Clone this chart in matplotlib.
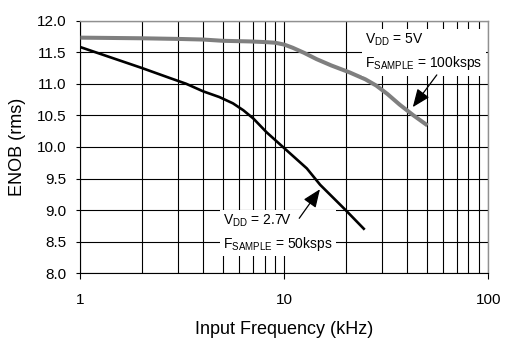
import matplotlib
matplotlib.use("Agg")
import matplotlib.pyplot as plt
from matplotlib.ticker import LogLocator, NullFormatter, FixedLocator

plt.rcParams['font.family'] = ['Liberation Sans', 'DejaVu Sans']
plt.rcParams['mathtext.fontset'] = 'custom'
plt.rcParams['mathtext.rm'] = 'Liberation Sans'
plt.rcParams['mathtext.it'] = 'Liberation Sans'
plt.rcParams['mathtext.default'] = 'regular'

# ENOB vs input frequency
freq_5v = [1, 2, 3, 4, 5, 6.8, 8, 9, 10, 11, 12.5, 14.4, 17, 20.9, 25, 28.3, 32, 36.8, 43, 50.4]
enob_5v = [11.73, 11.72, 11.71, 11.70, 11.68, 11.67, 11.66, 11.65, 11.62, 11.57, 11.49, 11.39,
           11.29, 11.18, 11.07, 10.97, 10.84, 10.67, 10.50, 10.34]

freq_27v = [1, 2, 2.75, 3.3, 4, 4.8, 5.6, 6.3, 7.05, 8.2, 10, 12.9, 15, 20, 24.8]
enob_27v = [11.58, 11.25, 11.09, 11.0, 10.88, 10.79, 10.69, 10.58, 10.45, 10.23, 9.98,
            9.66, 9.40, 9.0, 8.69]

y_ticks = [8.0, 8.5, 9.0, 9.5, 10.0, 10.5, 11.0, 11.5, 12.0]
x_ticks = [1, 10, 100]

fig = plt.figure(figsize=(5.09, 3.49), dpi=100)
ax = fig.add_axes([0.158, 0.217, 0.801, 0.724])

ax.plot(freq_5v, enob_5v, color='#7f7f7f', lw=2.9, solid_capstyle='butt',
        solid_joinstyle='round', zorder=3)
ax.plot(freq_27v, enob_27v, color='black', lw=1.9, solid_capstyle='butt',
        solid_joinstyle='round', zorder=3)

ax.set_xscale('log')
ax.set_xlim(1, 100)
ax.set_ylim(8.0, 12.0)
ax.xaxis.set_major_locator(FixedLocator(x_ticks))
ax.set_xticklabels([str(t) for t in x_ticks])
ax.xaxis.set_minor_locator(LogLocator(base=10, subs=range(2, 10)))
ax.xaxis.set_minor_formatter(NullFormatter())
ax.set_yticks(y_ticks)
ax.set_yticklabels([f"{t:.1f}" for t in y_ticks])

ax.grid(True, which='both', axis='x', color='black', lw=0.8)
ax.grid(True, which='major', axis='y', color='black', lw=0.8)
ax.set_axisbelow(True)

ax.tick_params(axis='x', which='major', direction='out', length=4, width=0.8, pad=10, labelsize=11)
ax.tick_params(axis='x', which='minor', length=0)
ax.tick_params(axis='y', direction='out', length=3, width=0.8, pad=7, labelsize=11)

for s in ['left', 'bottom']:
    ax.spines[s].set_color('black')
    ax.spines[s].set_linewidth(0.8)
for s in ['top', 'right']:
    ax.spines[s].set_color('#909090')
    ax.spines[s].set_linewidth(1.0)

ax.set_xlabel('Input Frequency (kHz)', fontsize=13, labelpad=10)
ax.set_ylabel('ENOB (rms)', fontsize=13, labelpad=8)

box = dict(boxstyle='square,pad=0.25', fc='white', ec='none')
arrow = dict(arrowstyle='-|>,head_length=1.1,head_width=0.45', color='black',
             lw=0.9, shrinkA=0, shrinkB=0)

ax.text(24.9, 11.50, 'V$_{DD}$ = 5V\nF$_{SAMPLE}$ = 100ksps', fontsize=10,
        ha='left', va='center', linespacing=1.45, bbox=box, zorder=4)
ax.annotate('', xy=(42.7, 10.63), xytext=(56.0, 11.14), arrowprops=arrow, zorder=5)

ax.text(5.01, 8.64, 'V$_{DD}$ = 2.7V\nF$_{SAMPLE}$ = 50ksps', fontsize=10,
        ha='left', va='center', linespacing=1.45, bbox=box, zorder=4)
ax.annotate('', xy=(14.96, 9.33), xytext=(11.84, 8.87), arrowprops=arrow, zorder=5)

fig.savefig('out.png', dpi=100)
